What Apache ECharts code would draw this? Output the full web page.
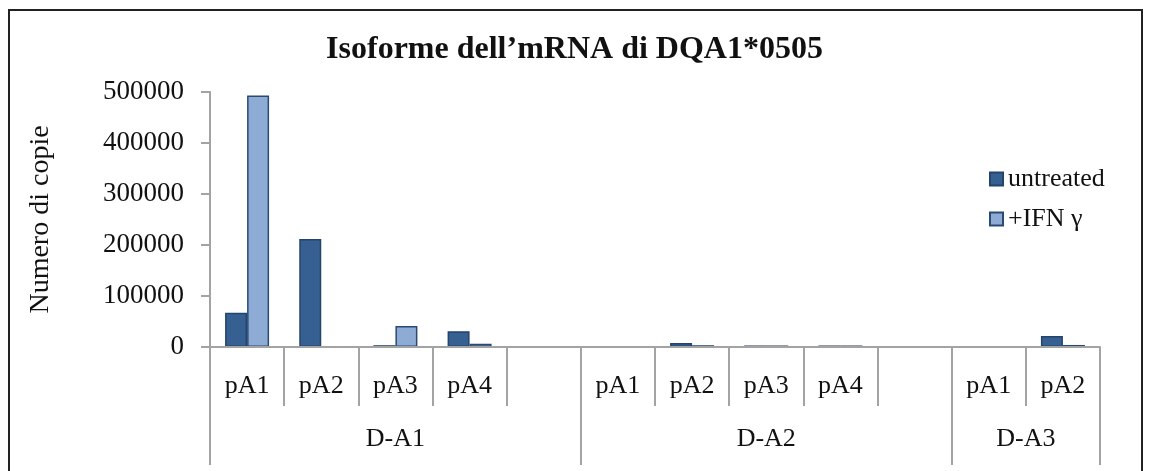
<!DOCTYPE html>
<html>
<head>
<meta charset="utf-8">
<style>
  html, body { margin: 0; padding: 0; background: #fff; }
  #chart { width: 1149px; height: 471px; }
  #frame {
    position: absolute; left: 8px; top: 9px; width: 1131px; height: 480px;
    border: 2px solid #222; pointer-events: none;
  }
</style>
<script src="https://cdn.jsdelivr.net/npm/echarts@6/dist/echarts.min.js"></script>
</head>
<body>
<div id="chart"></div>
<div id="frame"></div>
<script>
// data
const groupNames = ['D-A1', 'D-A2', 'D-A3'];
const groupIsoforms = [
  ['pA1', 'pA2', 'pA3', 'pA4', ''],
  ['pA1', 'pA2', 'pA3', 'pA4', ''],
  ['pA1', 'pA2']
];
const untreated = [67000, 212000, 3500, 31000, null, 0, 8000, 3000, 3000, null, 0, 21500];
const ifnGamma = [493000, 0, 41000, 6500, null, 0, 3500, 3000, 3000, null, 0, 4000];
const yMin = 0;
const yMax = 500000;
const yStep = 100000;

const font = '"Liberation Serif", "Times New Roman", serif';
const axisGray = '#a3a3a3';
const gridLeft = 210;
const gridRight = 49;
const bandWidth = (1149 - gridLeft - gridRight) / 12;

// flat categories + group layout for the second axis level
const categories = [];
const groupOf = [];
const groupStarts = [];
groupIsoforms.forEach((list, g) => {
  groupStarts.push(categories.length);
  list.forEach((name) => {
    categories.push(name);
    groupOf.push(g);
  });
});
const groupLabelAt = {};
groupIsoforms.forEach((list, g) => {
  const start = groupStarts[g];
  const n = list.length;
  groupLabelAt[start + Math.ceil(n / 2) - 1] = { name: groupNames[g], even: n % 2 === 0 };
});

const myChart = echarts.init(document.getElementById('chart'));
myChart.setOption({
  backgroundColor: '#fff',
  animation: false,
  title: {
    text: 'Isoforme dell\u2019mRNA di DQA1*0505',
    left: 'center',
    top: 29,
    textStyle: { fontFamily: font, fontSize: 32, fontWeight: 'bold', color: '#111' }
  },
  legend: {
    orient: 'vertical',
    left: 984,
    top: 161,
    itemWidth: 13,
    itemHeight: 13,
    itemGap: 14,
    icon: 'rect',
    textStyle: { fontFamily: font, fontSize: 26, color: '#111' }
  },
  grid: { left: gridLeft, right: gridRight, top: 92, bottom: 124 },
  xAxis: [
    {
      type: 'category',
      data: categories,
      z: 3,
      axisLine: { show: true, lineStyle: { color: axisGray, width: 2 } },
      axisTick: { show: true, interval: 0, length: 59, lineStyle: { color: axisGray, width: 2 } },
      axisLabel: { interval: 0, margin: 26, fontFamily: font, fontSize: 26, color: '#111' }
    },
    {
      type: 'category',
      position: 'bottom',
      data: categories.map((c, i) => groupNames[groupOf[i]]),
      axisLine: { show: false },
      axisTick: {
        show: true,
        interval: (index) => groupStarts.includes(index),
        length: 118,
        lineStyle: { color: axisGray, width: 2 }
      },
      axisLabel: {
        interval: 0,
        margin: 79,
        fontFamily: font,
        fontSize: 26,
        color: '#111',
        formatter: (value, index) => {
          const lab = groupLabelAt[index];
          if (!lab) return '';
          return lab.even ? '{s|' + lab.name + '}' : lab.name;
        },
        rich: {
          s: { fontFamily: font, fontSize: 26, color: '#111', padding: [0, 0, 0, bandWidth] }
        }
      }
    }
  ],
  yAxis: {
    type: 'value',
    min: yMin,
    max: yMax,
    interval: yStep,
    name: 'Numero di copie',
    nameLocation: 'middle',
    nameGap: 155,
    nameTextStyle: { fontFamily: font, fontSize: 28, color: '#111' },
    axisLine: { show: true, lineStyle: { color: axisGray, width: 2 } },
    axisTick: { show: true, length: 9, lineStyle: { color: axisGray, width: 2 } },
    axisLabel: {
      margin: 26, fontFamily: font, fontSize: 27, color: '#111',
      formatter: (v) => String(v)
    },
    splitLine: { show: false }
  },
  series: [
    {
      name: 'untreated',
      type: 'bar',
      data: untreated,
      barWidth: 22,
      barGap: '0%',
      itemStyle: { color: '#365f92', borderColor: '#24446b', borderWidth: 1.5 }
    },
    {
      name: '+IFN \u03b3',
      type: 'bar',
      data: ifnGamma,
      barWidth: 22,
      barGap: '0%',
      itemStyle: { color: '#8dabd5', borderColor: '#2a4a72', borderWidth: 1.5 }
    }
  ]
});
</script>
</body>
</html>
